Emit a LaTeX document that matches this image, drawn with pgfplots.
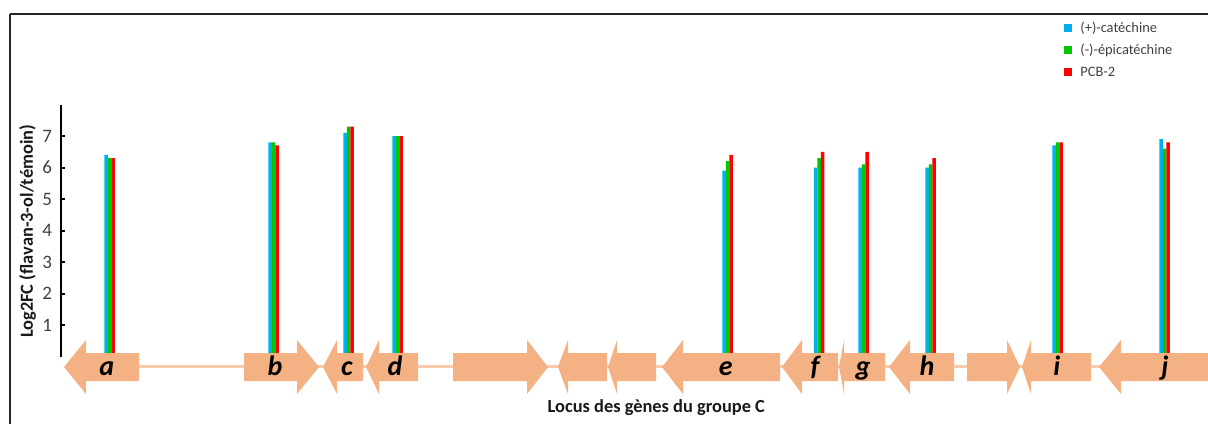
\documentclass[border=0pt]{standalone}
\usepackage{fontspec}
\setmainfont{Carlito}
\usepackage{pgfplots}
\pgfplotsset{compat=1.18}

\definecolor{cblue}{HTML}{00B0F0}
\definecolor{cgreen}{HTML}{00C800}
\definecolor{cred}{HTML}{FF0000}
\definecolor{gene}{HTML}{F4B183}
\definecolor{link}{HTML}{F8CBAD}
\definecolor{txt}{HTML}{404040}

% gene arrow shapes: x in px units, y in axis units
% body 0.111 / -0.778, head 0.524 / -1.190, centre -0.333
\newcommand{\leftgene}[3]{% tip, back, right end
  \addplot[fill=gene, draw=none, forget plot] coordinates {
    (#1,-0.333) (#2,0.524) (#2,0.111) (#3,0.111)
    (#3,-0.778) (#2,-0.778) (#2,-1.190)} -- cycle;}
\newcommand{\rightgene}[3]{% left end, back, tip
  \addplot[fill=gene, draw=none, forget plot] coordinates {
    (#1,0.111) (#2,0.111) (#2,0.524) (#3,-0.333)
    (#2,-1.190) (#2,-0.778) (#1,-0.778)} -- cycle;}
\newcommand{\genename}[2]{%
  \node[anchor=base, font=\fontsize{14}{15}\selectfont\bfseries\itshape]
    at (axis cs:#1,-0.61) {#2};}

\begin{document}
\begin{tikzpicture}
% 1 px of the reference = 0.5pt
\useasboundingbox (0pt,0pt) rectangle (604pt,-211.5pt);
\draw[line width=1pt, black!85] (5pt,-7pt) -- (606pt,-7pt);
\draw[line width=1pt, black!85] (5pt,-7pt) -- (5pt,-213pt);
\begin{axis}[
  at={(30.5pt,-178.25pt)}, anchor=south west,
  scale only axis, width=573.5pt, height=126pt,
  xmin=61, xmax=1208, ymin=0, ymax=8,
  clip=false,
  axis x line=none,
  axis y line=left,
  axis line style={-, line width=1.3pt, black},
  ytick={1,2,3,4,5,6,7},
  tick align=inside,
  major tick length=2pt,
  tick style={line width=1pt, black},
  /pgf/number format/assume math mode=true,
  yticklabel style={font=\fontsize{9.5}{10}\selectfont, text=txt, xshift=-1pt},
  every axis y label/.style={at={(axis description cs:-0.029,0.497)},
    rotate=90, anchor=center},
  ylabel={Log2FC (flavan-3-ol/témoin)},
  ylabel style={font=\fontsize{9.2}{11}\selectfont\bfseries, text=black!90},
  legend style={at={(0.8745,1.341)}, anchor=north west, draw=none,
    fill=none, inner sep=0pt, row sep=1.5pt, column sep=3pt,
    font=\fontsize{7.2}{8}\selectfont, text=txt,
    nodes={inner sep=1pt, text height=6pt, text depth=1.5pt}},
  legend cell align=left,
  legend image code/.code={\fill[#1] (0pt,-2pt) rectangle (4pt,2.2pt);},
]
% backbone line
\addplot[link, line width=1.5pt, forget plot] coordinates {(139,-0.333) (1208,-0.333)};

% bars
\addplot[ybar, bar width=1.75pt, bar shift=-1.75pt, fill=cblue, draw=none] coordinates {
  (109.5,6.4) (273.5,6.8) (348.5,7.1) (397.5,7.0) (727.5,5.9)
  (819,6.0) (863.5,6.0) (930.5,6.0) (1057.5,6.7) (1164.5,6.9)};
\addplot[ybar, bar width=1.75pt, bar shift=0pt, fill=cgreen, draw=none] coordinates {
  (109.5,6.3) (273.5,6.8) (348.5,7.3) (397.5,7.0) (727.5,6.2)
  (819,6.3) (863.5,6.1) (930.5,6.1) (1057.5,6.8) (1164.5,6.6)};
\addplot[ybar, bar width=1.75pt, bar shift=1.75pt, fill=cred, draw=none] coordinates {
  (109.5,6.3) (273.5,6.7) (348.5,7.3) (397.5,7.0) (727.5,6.4)
  (819,6.5) (863.5,6.5) (930.5,6.3) (1057.5,6.8) (1164.5,6.8)};
\legend{(+)-catéchine,(-)-épicatéchine,PCB-2}

% gene arrows
\leftgene{64}{86}{139}
\rightgene{244}{297}{319}
\leftgene{323}{337}{363}
\leftgene{366}{379}{418}
\rightgene{453}{527}{548}
\leftgene{558}{568}{607}
\leftgene{608}{617}{656}
\leftgene{662}{683}{780}
\leftgene{782}{802}{838}
\leftgene{839}{844}{885}
\leftgene{889}{910}{954}
\rightgene{967}{1007}{1020}
\leftgene{1022}{1031}{1091}
\leftgene{1099}{1121}{1215}

% gene names
\genename{106.7}{a}
\genename{275}{b}
\genename{347}{c}
\genename{395}{d}
\genename{725.7}{e}
\genename{815}{f}
\genename{863}{g}
\genename{927}{h}
\genename{1056.7}{i}
\genename{1165}{j}

% x axis title (x axis itself is hidden)
\node[font=\fontsize{9.2}{11}\selectfont\bfseries, text=black!90, anchor=center]
  at (axis description cs:0.519,-0.204) {Locus des gènes du groupe C};
\end{axis}
\end{tikzpicture}
\end{document}
